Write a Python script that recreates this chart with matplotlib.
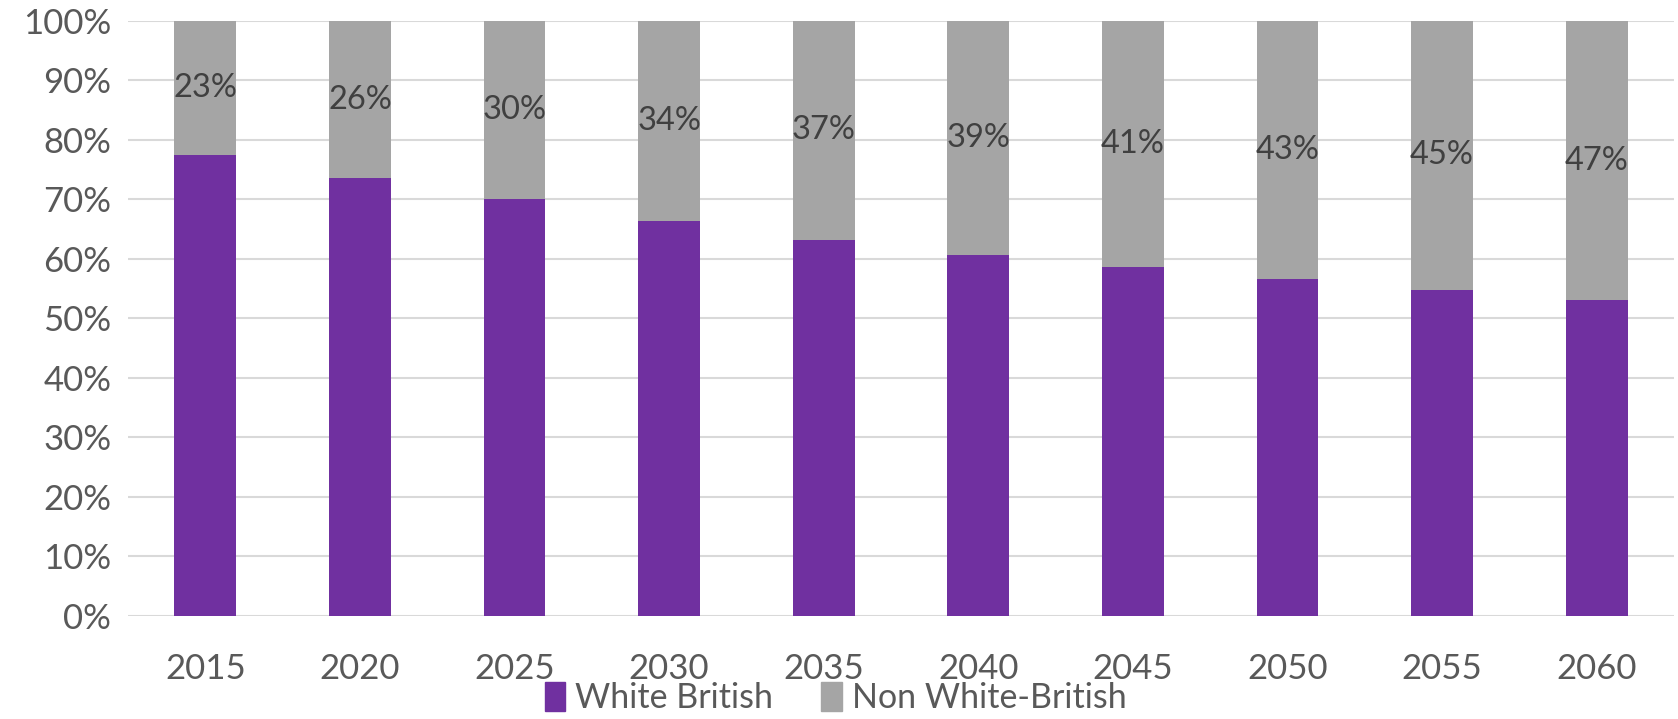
import matplotlib
matplotlib.use("Agg")
import matplotlib.pyplot as plt
from matplotlib.patches import Patch

years = ["2015", "2020", "2025", "2030", "2035", "2040", "2045", "2050", "2055", "2060"]
white_british = [77.4, 73.6, 70.0, 66.4, 63.2, 60.6, 58.6, 56.6, 54.8, 53.1]
non_white_british = [100 - v for v in white_british]
yticks = list(range(0, 101, 10))

PURPLE = "#7030A0"
GREY = "#A5A5A5"
GRID = "#D9D9D9"
TXT = "#595959"

plt.rcParams['font.family'] = ['Lato', 'DejaVu Sans']

fig = plt.figure(figsize=(16.78, 7.19), dpi=100)
ax = fig.add_axes([0.0763, 0.1433, 0.9213, 0.8275])

x = list(range(len(years)))
ax.bar(x, white_british, width=0.40, color=PURPLE, zorder=3)
ax.bar(x, non_white_british, width=0.40, bottom=white_british, color=GREY, zorder=3)

for i, (b, v) in enumerate(zip(white_british, non_white_british)):
    ax.text(i, b + v / 2, f"{round(v)}%", ha="center", va="center",
            fontsize=23.5, color="#404040", zorder=4)

ax.set_xlim(-0.5, len(years) - 0.5)
ax.set_ylim(0, 100)
ax.set_yticks(yticks)
ax.set_yticklabels([f"{t}%" for t in yticks])
ax.set_xticks(x)
ax.set_xticklabels(years)
ax.tick_params(axis='both', length=0, labelsize=25, labelcolor=TXT)
ax.tick_params(axis='y', pad=12)
ax.tick_params(axis='x', pad=27)
ax.yaxis.grid(True, color=GRID, linewidth=1.5, zorder=0)
ax.set_axisbelow(True)
for s in ax.spines.values():
    s.set_visible(False)

handles = [Patch(color=PURPLE, label="White British"),
           Patch(color=GREY, label="Non White-British")]
fig.legend(handles=handles, loc="lower center", bbox_to_anchor=(0.498, -0.036),
           ncol=2, frameon=False, fontsize=24.5, labelcolor=TXT,
           handlelength=0.6, handleheight=0.9, handletextpad=0.3, columnspacing=1.4)

fig.savefig("out.png", dpi=100, facecolor="white")
